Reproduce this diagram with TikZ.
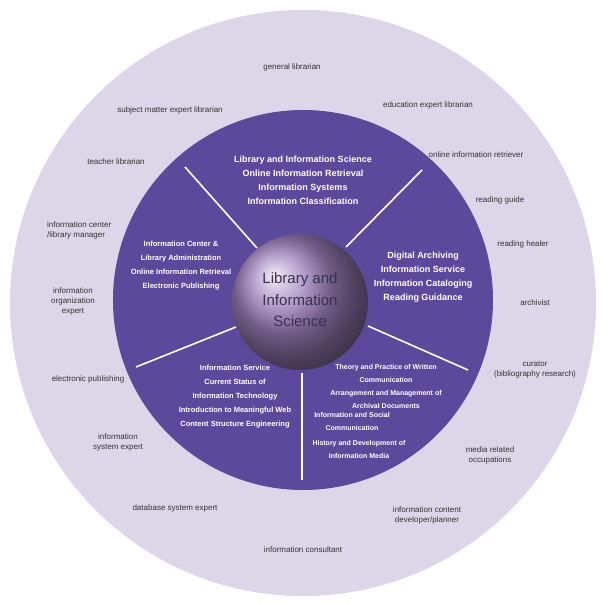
\documentclass[tikz,border=0pt]{standalone}
\usepackage{fontspec}
\setmainfont{Liberation Sans}
\definecolor{outerc}{HTML}{DDD5E8}
\definecolor{innerc}{HTML}{5B4A9B}
\definecolor{labc}{HTML}{333333}
\definecolor{ctext}{HTML}{3A3050}
\begin{document}
\begin{tikzpicture}[x=1pt,y=-1pt,
  outlab/.style={text=labc,font=\fontsize{8}{10}\selectfont,align=center,inner sep=0},
  blk/.style={text=white,font=\bfseries\fontsize{9}{14}\selectfont,align=center,inner sep=0},
  blks/.style={text=white,font=\bfseries\fontsize{7.5}{14}\selectfont,align=center,inner sep=0},
  blkt/.style={text=white,font=\bfseries\fontsize{7}{13}\selectfont,align=center,inner sep=0},
  divl/.style={white,line width=1.6pt}]
\fill[white] (0,0) rectangle (604,604);
\useasboundingbox (0,0) rectangle (604,604);
\node[circle,fill=outerc,minimum size=586pt,inner sep=0] (outer) at (303,303) {};
\node[circle,fill=innerc,minimum size=380pt,inner sep=0] (inner) at (303,300) {};
% dividers
\coordinate (a1) at (185,167); \coordinate (a2) at (257,248);
\coordinate (b1) at (422,170); \coordinate (b2) at (346,247);
\coordinate (c1) at (468,370); \coordinate (c2) at (368,326);
\coordinate (d1) at (302,480); \coordinate (d2) at (302,373);
\coordinate (e1) at (136,367); \coordinate (e2) at (236,327);
\draw[divl] (a1) -- (a2);
\draw[divl] (b1) -- (b2);
\draw[divl] (c1) -- (c2);
\draw[divl] (d1) -- (d2);
\draw[divl] (e1) -- (e2);
\shade[ball color={rgb,255:red,160;green,130;blue,190}] (300,302) circle (68pt);
\node[circle,minimum size=136pt,inner sep=0] (core) at (300,302) {};
\node[text=ctext,font=\fontsize{15}{21.5}\selectfont,align=center] (ct) at (300,300) {Library and\\Information\\Science};
% blocks
\node[blk] (top) at (303,180) {Library and Information Science\\Online Information Retrieval\\Information Systems\\Information Classification};
\node[blks] (left) at (181,266) {Information Center \&\\Library Administration\\Online Information Retrieval\\Electronic Publishing};
\node[blk] (right) at (423,277) {Digital Archiving\\Information Service\\Information Cataloging\\Reading Guidance};
\node[blks] (bl) at (235,397) {Information Service\\Current Status of\\Information Technology\\Introduction to Meaningful Web\\Content Structure Engineering};
\node[blkt] (br1) at (386,386) {Theory and Practice of Written\\Communication\\Arrangement and Management of\\Archival Documents};
\node[blkt] (br2) at (352,421) {Information and Social\\Communication};
\node[blkt] (br3) at (359,449) {History and Development of\\Information Media};
% outer labels
\node[outlab] (o1) at (292,67) {general librarian};
\node[outlab] (o2) at (170,110) {subject matter expert librarian};
\node[outlab] (o3) at (428,105) {education expert librarian};
\node[outlab] (o4) at (116,162) {teacher librarian};
\node[outlab] (o5) at (476,155) {online information retriever};
\node[outlab,align=left,anchor=west] (o6) at (47,230) {information center\\/library manager};
\node[outlab] (o7) at (500,200) {reading guide};
\node[outlab] (o8) at (523,244) {reading healer};
\node[outlab,align=center] (o9) at (73,301) {information\\organization\\expert};
\node[outlab] (o10) at (535,303) {archivist};
\node[outlab] (o11) at (535,370) {curator\\(bibliography research)};
\node[outlab] (o12) at (88,379) {electronic publishing};
\node[outlab] (o13) at (118,442) {information\\system expert};
\node[outlab] (o14) at (490,455) {media related\\occupations};
\node[outlab] (o15) at (175,508) {database system expert};
\node[outlab] (o16) at (427,515) {information content\\developer/planner};
\node[outlab] (o17) at (303,550) {information consultant};
\end{tikzpicture}
\end{document}
